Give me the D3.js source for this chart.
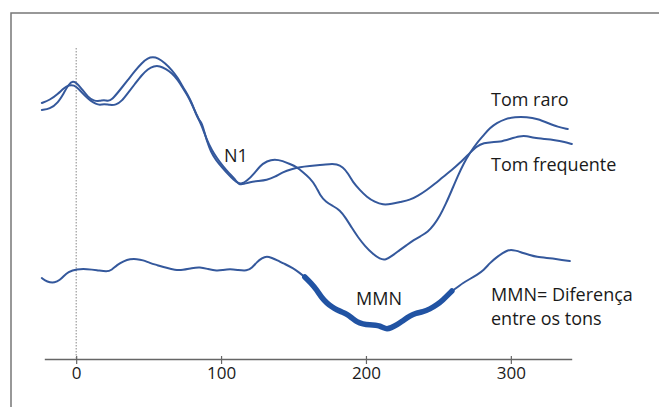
<!DOCTYPE html>
<html>
<head>
<meta charset="utf-8">
<script src="https://cdn.jsdelivr.net/npm/d3@7"></script>
<style>
  html, body { margin: 0; padding: 0; background: #fff; }
  svg { display: block; }
  text { font-family: "Open Sans", "Noto Sans", sans-serif; fill: #1a1a1a; }
</style>
</head>
<body>
<svg id="chart" width="659" height="407"></svg>
<script>
// ---- Data (time in ms, amplitude in arbitrary µV-like units) ----
const raroTime = [-23.7,-18.2,-12.6,-8.5,-5.0,-2.3,0.5,3.9,8.1,12.2,16.4,19.1,21.9,24.6,30.2,35.7,40.5,45.3,49.5,52.9,56.4,61.2,66.0,70.2,73.6,77.1,79.8,82.6,84.7,86.7,88.1,90.2,93.0,96.4,100.5,104.7,108.8,111.6,114.3,117.8,122.6,126.8,131.6,137.1,142.6,147.5,152.3,156.4,161.3,165.4,168.2,172.3,177.2,182.0,186.1,190.3,194.4,199.2,204.8,209.6,213.7,217.9,223.4,228.2,233.0,237.9,242.7,246.9,251.0,255.1,259.3,263.4,267.6,271.7,276.5,281.4,285.5,290.3,295.8,302.7,311.0,318.6,325.5,332.4,339.3];
const raroValue = [9.0,9.1,9.7,10.7,11.6,11.9,11.7,11.1,10.3,9.9,9.9,10.0,9.9,10.0,11.0,12.0,12.9,13.7,14.2,14.3,14.2,13.7,13.0,12.2,11.3,10.5,9.7,8.6,8.0,7.7,7.0,5.9,4.8,4.0,3.3,2.6,2.0,1.7,1.6,1.9,2.6,3.4,3.9,4.1,3.9,3.6,3.3,2.8,2.2,1.4,0.5,-0.2,-0.6,-1.0,-1.8,-2.8,-3.7,-4.6,-5.4,-5.9,-6.0,-5.6,-5.0,-4.5,-4.0,-3.6,-3.2,-2.5,-1.6,-0.4,1.0,2.4,3.7,4.7,5.7,6.5,7.2,7.7,8.1,8.3,8.3,8.1,7.7,7.3,7.1];

const freqTime = [-23.7,-18.2,-12.6,-8.5,-5.0,-1.6,1.9,6.0,10.1,13.6,16.4,19.1,23.3,27.4,31.5,35.7,40.5,45.3,49.5,53.6,57.8,61.9,66.0,70.2,73.6,77.1,79.8,83.3,86.7,90.2,93.6,97.1,101.2,105.4,109.5,112.3,115.7,119.9,125.4,131.6,137.1,142.6,148.8,154.4,161.3,168.2,175.1,179.9,184.0,187.5,190.9,195.8,200.6,206.1,211.7,217.9,223.4,230.3,235.8,242.0,247.5,253.1,259.3,264.8,270.3,276.5,281.4,286.9,292.4,299.3,306.2,311.0,315.9,323.4,330.4,337.3,342.1];
const freqValue = [9.7,10.0,10.6,11.2,11.5,11.5,11.1,10.4,9.9,9.6,9.5,9.6,9.5,9.5,9.9,10.7,11.6,12.5,13.1,13.4,13.4,13.1,12.7,12.0,11.2,10.4,9.6,8.5,7.4,6.0,5.0,4.2,3.4,2.7,2.1,1.5,1.6,1.8,1.9,2.0,2.3,2.8,3.1,3.3,3.4,3.5,3.6,3.6,3.3,2.7,1.8,1.0,0.3,-0.2,-0.5,-0.4,-0.2,0.0,0.4,1.0,1.6,2.3,3.0,3.7,4.5,5.4,5.7,5.8,5.8,6.1,6.4,6.4,6.2,6.1,6.0,5.8,5.6];

const mmnTime = [-23.7,-20.2,-14.7,-11.2,-8.5,-5.7,0.5,7.4,14.3,21.2,24.6,28.1,32.9,37.1,41.9,46.0,50.9,55.7,62.6,68.1,73.6,79.8,85.4,90.9,97.1,101.2,106.1,111.6,117.8,121.3,124.7,128.2,131.6,135.1,138.5,144.0,149.5,154.4,157.8,162.0,166.1,169.6,173.0,176.5,179.9,183.4,186.8,190.3,193.7,197.8,202.7,206.8,209.6,212.3,214.4,217.2,221.3,226.1,230.3,234.4,239.3,244.1,248.9,253.1,257.9,259.3,263.4,266.9,271.7,276.5,281.4,285.5,290.3,294.5,297.9,301.4,304.8,308.3,313.1,317.9,324.8,331.7,340.7];
const mmnValue = [-7.8,-8.2,-8.3,-8.0,-7.6,-7.2,-6.9,-6.9,-7.0,-7.2,-7.0,-6.5,-6.1,-5.9,-5.9,-6.0,-6.3,-6.5,-6.8,-7.0,-7.0,-6.8,-6.7,-6.9,-7.1,-7.0,-6.9,-7.0,-7.1,-6.8,-6.2,-5.8,-5.6,-5.8,-6.0,-6.4,-6.8,-7.3,-7.7,-8.3,-9.0,-9.8,-10.3,-10.7,-11.0,-11.2,-11.4,-11.8,-12.2,-12.4,-12.5,-12.5,-12.6,-12.8,-12.9,-12.8,-12.5,-12.0,-11.6,-11.3,-11.2,-10.9,-10.5,-10.0,-9.3,-9.1,-8.7,-8.3,-7.9,-7.5,-7.0,-6.3,-5.7,-5.3,-5.0,-5.0,-5.1,-5.3,-5.5,-5.7,-5.8,-5.9,-6.1];

const mmnWindow = [157.8, 259.3];          // highlighted MMN segment (ms)
const xTicks = [0, 100, 200, 300];
const xDomain = [-22, 342];
const yDomain = [-16, 18];

const labels = {
  raro: "Tom raro",
  freq: "Tom frequente",
  n1: "N1",
  mmn: "MMN",
  mmnDef1: "MMN= Diferença",
  mmnDef2: "entre os tons"
};

// ---- Drawing ----
const svg = d3.select("#chart");
const x = d3.scaleLinear().domain(xDomain).range([44.3, 571.7]);
const y = d3.scaleLinear().domain(yDomain).range([360, 20]);
const axisY = 359;

// frame (top & left)
svg.append("path")
  .attr("d", "M11,407V13H659")
  .attr("fill", "none")
  .attr("stroke", "#777")
  .attr("stroke-width", 1.5);

// stimulus onset dotted line
svg.append("line")
  .attr("x1", x(0)).attr("x2", x(0))
  .attr("y1", 48).attr("y2", axisY)
  .attr("stroke", "#888")
  .attr("stroke-width", 1)
  .attr("stroke-dasharray", "1.5,1.5");

// axis
const axis = d3.axisBottom(x).tickValues(xTicks).tickSizeInner(5).tickSizeOuter(0).tickPadding(3);
const gAxis = svg.append("g").attr("transform", `translate(0,${axisY})`).call(axis);
gAxis.select(".domain").attr("stroke", "#666").attr("stroke-width", 1.5);
gAxis.selectAll(".tick line").attr("stroke", "#666").attr("stroke-width", 1.2).attr("y1", -3);
gAxis.selectAll(".tick text")
  .attr("font-size", 17)
  .attr("font-family", "'Open Sans', 'Noto Sans', sans-serif")
  .attr("fill", "#2a2a2a");

const line = d3.line()
  .x(d => x(d[0]))
  .y(d => y(d[1]))
  .curve(d3.curveBasis);

const zip = (t, v) => t.map((tt, i) => [tt, v[i]]);
const lineColor = "#34589c";

const series = [zip(raroTime, raroValue), zip(freqTime, freqValue), zip(mmnTime, mmnValue)];
svg.selectAll("path.erp")
  .data(series)
  .join("path")
  .attr("class", "erp")
  .attr("d", line)
  .attr("fill", "none")
  .attr("stroke", lineColor)
  .attr("stroke-width", 2)
  .attr("stroke-linejoin", "round")
  .attr("stroke-linecap", "round");

// highlighted MMN window
const mmnSeg = zip(mmnTime, mmnValue).filter(d => d[0] >= mmnWindow[0] && d[0] <= mmnWindow[1]);
svg.append("path")
  .attr("d", line(mmnSeg))
  .attr("fill", "none")
  .attr("stroke", "#2153a3")
  .attr("stroke-width", 5.5)
  .attr("stroke-linejoin", "round")
  .attr("stroke-linecap", "round");

// labels
const txt = (s, px, py) => svg.append("text")
  .attr("x", px).attr("y", py)
  .attr("font-size", 18)
  .text(s);

txt(labels.raro, 491, 106);
txt(labels.freq, 491, 171);
txt(labels.n1, 224, 162);
txt(labels.mmn, 356, 305);
txt(labels.mmnDef1, 491, 301);
txt(labels.mmnDef2, 491, 325);
</script>
</body>
</html>
